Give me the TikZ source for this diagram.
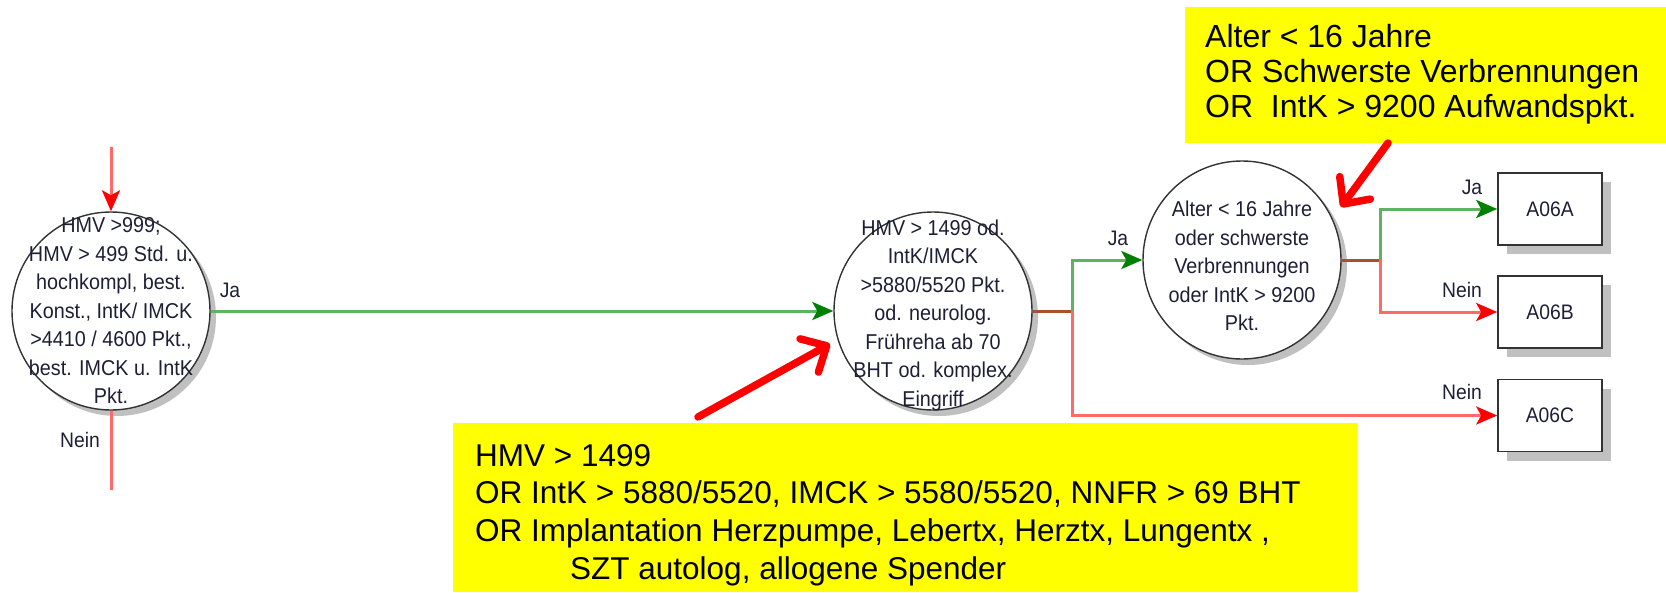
\documentclass[tikz,border=0pt]{standalone}
\usepackage{fontspec}
\setmainfont{Liberation Sans}
\newfontfamily\circfont[FakeStretch=0.92]{Liberation Sans}
\usetikzlibrary{arrows.meta,shadows}
\definecolor{lgreen}{RGB}{95,178,95}
\definecolor{dgreen}{RGB}{0,128,0}
\definecolor{lred}{RGB}{255,105,105}
\definecolor{dred}{RGB}{255,0,0}
\definecolor{brownline}{RGB}{170,80,50}
\definecolor{ink}{RGB}{30,30,55}
\definecolor{shadowgrey}{RGB}{192,192,192}
\definecolor{hl}{RGB}{255,255,0}
\begin{document}
\begin{tikzpicture}[x=1pt,y=-1pt,
 decision/.style={circle, draw=black!80, line width=1.4pt, fill=white, minimum size=198pt, inner sep=0pt,
   drop shadow={shadow xshift=6pt, shadow yshift=-6pt, fill=shadowgrey, opacity=1}},
 ctext/.style={align=center, text=ink, font=\circfont\fontsize{21.5}{28.5}\selectfont, inner sep=0pt},
 result/.style={rectangle, draw=black!80, line width=1.6pt, fill=white, minimum width=104pt, minimum height=72pt,
   font=\circfont\fontsize{21}{24}\selectfont, text=ink,
   drop shadow={shadow xshift=9pt, shadow yshift=-9pt, fill=shadowgrey, opacity=1}},
 lbl/.style={text=ink, font=\circfont\fontsize{21}{24}\selectfont, inner sep=0pt},
 yes/.style={draw=lgreen, line width=3pt, -{Stealth[length=21pt,width=18pt,inset=5pt,color=dgreen]}},
 no/.style={draw=lred, line width=3pt, -{Stealth[length=21pt,width=18pt,inset=5pt,color=dred]}},
 noline/.style={draw=lred, line width=3pt},
 stem/.style={draw=brownline, line width=3pt},
 callout/.style={draw=dred, line width=7.5pt, line cap=round, -{Straight Barb[length=20pt,width=38pt,round]}},
 note/.style={fill=hl, draw=none},
 notetext/.style={align=left, anchor=west, inner sep=0pt},
]
\useasboundingbox (0,0) rectangle (1666,592);

% decision circles
\node[decision] (c1) at (111,311) {};
\node[ctext] (t1) at (c1.center) {HMV >999;\\HMV > 499 Std. u.\\hochkompl, best.\\Konst., IntK/ IMCK\\>4410 / 4600 Pkt.,\\best. IMCK u. IntK\\Pkt.};
\node[decision] (c2) at (933,311) {};
\node[ctext] (t2) at ([yshift=-4pt]c2.center) {HMV > 1499 od.\\IntK/IMCK\\>5880/5520 Pkt.\\od. neurolog.\\Frühreha ab 70\\BHT od. komplex.\\Eingriff};
\node[decision] (c3) at (1242,260) {};
\node[ctext] (t3) at ([yshift=-6pt]c3.center) {Alter < 16 Jahre\\oder schwerste\\Verbrennungen\\oder IntK > 9200\\Pkt.};

% result boxes
\node[result] (a) at (1550,209) {A06A};
\node[result] (b) at (1550,312) {A06B};
\node[result] (c) at (1550,415.5) {A06C};

% helper coordinates
\coordinate (in1) at (111,147);
\coordinate (out1) at (111,490);
\coordinate (j1) at (1072,311);
\coordinate (j2) at (1380,260);

% connectors
\draw[no] (in1) -- (c1.north);
\draw[noline] (c1.south) -- (out1);
\draw[yes] (c1.east) -- (c2.west);
\draw[stem] (c2.east) -- (j1);
\draw[yes] (j1) |- (c3.west);
\draw[no] (j1) |- (c.west);
\draw[stem] (c3.east) -- (j2);
\draw[yes] (j2) |- (a.west);
\draw[no] (j2) |- (b.west);

% branch labels
\node[lbl] (l1) at (230,290) {Ja};
\node[lbl] (l2) at (80,440) {Nein};
\node[lbl] (l3) at (1118,238) {Ja};
\node[lbl] (l4) at (1472,187) {Ja};
\node[lbl] (l5) at (1462,290) {Nein};
\node[lbl] (l6) at (1462,392) {Nein};

% yellow notes
\fill[note] (1185,7) rectangle (1666,143);
\node[notetext, font=\fontsize{32}{35}\selectfont] (n1) at (1205,74)
 {Alter < 16 Jahre\\OR Schwerste Verbrennungen\\OR\ \ IntK > 9200 Aufwandspkt.};
\fill[note] (453,423) rectangle (1357,592);
\node[notetext, font=\fontsize{31.5}{37.7}\selectfont] (n2) at (475,515)
 {HMV > 1499\\OR IntK > 5880/5520, IMCK > 5580/5520, NNFR > 69 BHT\\OR Implantation Herzpumpe, Lebertx, Herztx, Lungentx ,\\\hspace*{95pt}SZT autolog, allogene Spender};

% callout arrows
\coordinate (p1) at (698,417);
\coordinate (p2) at (830,344);
\draw[callout] (p1) -- (p2);
\coordinate (q1) at (1388,143);
\coordinate (q2) at (1341,207);
\draw[callout] (q1) -- (q2);
\end{tikzpicture}
\end{document}
